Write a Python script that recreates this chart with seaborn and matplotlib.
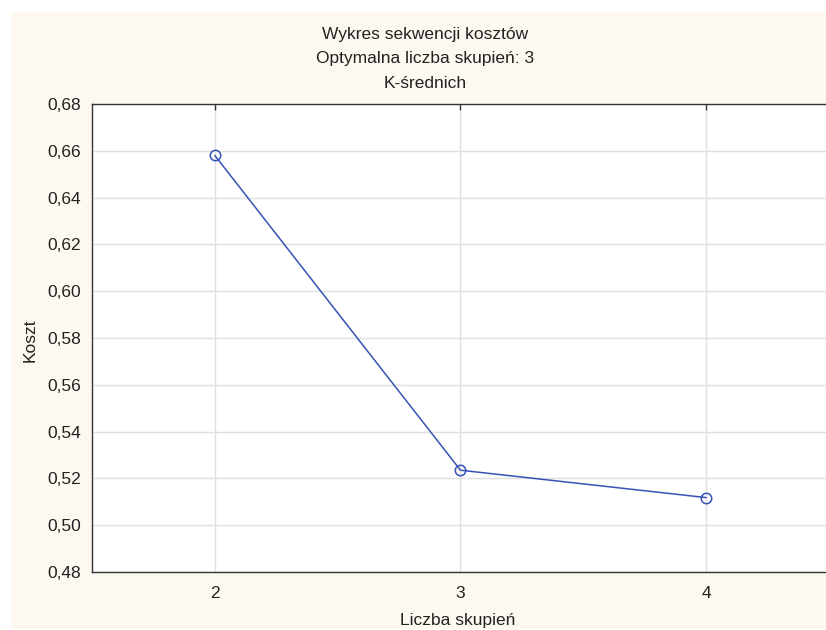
import pandas as pd
import matplotlib.pyplot as plt
import matplotlib.patches as patches
from matplotlib.ticker import MultipleLocator, FuncFormatter
import seaborn as sns

# Data
clusters = [2, 3, 4]
cost = [0.658, 0.5235, 0.5118]
y_ticks = [0.48, 0.50, 0.52, 0.54, 0.56, 0.58, 0.60, 0.62, 0.64, 0.66, 0.68]

df = pd.DataFrame({'Liczba skupień': clusters, 'Koszt': cost})

sns.set_style('white')
plt.rcParams['font.family'] = ['Liberation Sans', 'DejaVu Sans']
fs = 12.5

fig = plt.figure(figsize=(8.26, 6.3), dpi=100)
fig.patch.set_facecolor('white')

# cream panel behind the plot
fig.patches.append(patches.Rectangle((11 / 826, 1 - 629 / 630), 1.0, (629 - 12) / 630,
                                     transform=fig.transFigure, facecolor='#fdf9f0',
                                     edgecolor='none', zorder=-10))

ax = fig.add_axes([92 / 826, 1 - 572 / 630, (829 - 92) / 826, (572 - 104) / 630])
ax.set_zorder(1)
ax.set_facecolor('white')

sns.lineplot(data=df, x='Liczba skupień', y='Koszt', ax=ax, color='#3553b3',
             linewidth=1.1, marker='o', markersize=7.5, markerfacecolor='none',
             markeredgecolor='#3553b3', markeredgewidth=1.1)

ax.set_xlim(1.5, 4.5)
ax.set_ylim(0.48, 0.68)
ax.set_xticks(clusters)
ax.set_yticks(y_ticks)
ax.yaxis.set_minor_locator(MultipleLocator(0.01))
ax.yaxis.set_major_formatter(FuncFormatter(lambda v, p: f'{v:.2f}'.replace('.', ',')))
ax.tick_params(which='both', direction='in', colors='#333333', labelcolor='#222222',
               labelsize=fs, top=True)
ax.tick_params(which='major', length=4, width=1.0)
ax.tick_params(which='minor', length=2.5, width=1.0)
ax.tick_params(axis='x', pad=10)
ax.tick_params(axis='y', pad=8)
ax.grid(True, which='major', color='#e0e0e0', linewidth=1.0)
ax.set_axisbelow(True)
for s in ax.spines.values():
    s.set_color('#333333')
    s.set_linewidth(1.0)

ax.set_xlabel('')
ax.set_ylabel('')
fig.text(458 / 826, 1 - 621 / 630, 'Liczba skupień', ha='center', va='center', fontsize=fs,
         color='#222222')
fig.text(30 / 826, 1 - 340 / 630, 'Koszt', ha='center', va='center', rotation=90,
         fontsize=fs, color='#222222')

fig.text(425 / 826, 1 - 34 / 630, 'Wykres sekwencji kosztów', ha='center', va='center',
         fontsize=fs, color='#222222')
fig.text(425 / 826, 1 - 58 / 630, 'Optymalna liczba skupień: 3', ha='center', va='center',
         fontsize=fs, color='#222222')
fig.text(425 / 826, 1 - 83 / 630, 'K-średnich', ha='center', va='center',
         fontsize=fs, color='#222222')

fig.savefig('out.png', dpi=100)
